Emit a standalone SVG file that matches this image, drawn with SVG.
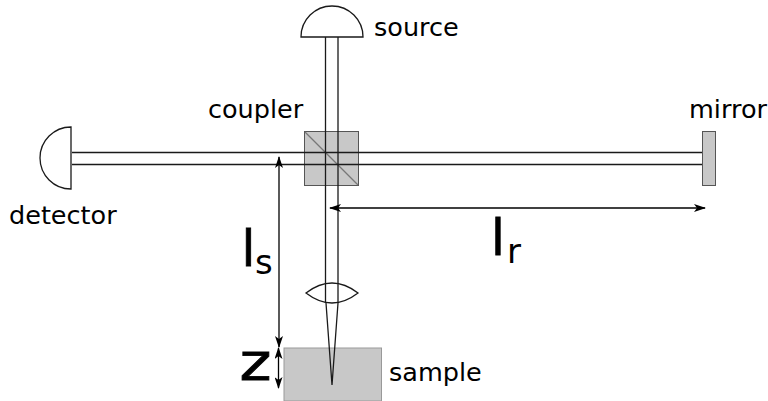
<svg xmlns="http://www.w3.org/2000/svg" width="768" height="401" viewBox="0 0 768 401">
<defs>
<marker id="a" viewBox="0 0 12 8" refX="11" refY="4" markerWidth="12" markerHeight="8" markerUnits="userSpaceOnUse" orient="auto-start-reverse"><path d="M0 0 L12 4 L0 8 L3 4 Z" fill="#000"/></marker>
</defs>
<style>
.l{font-family:"DejaVu Sans",sans-serif;font-size:25.5px;fill:#000}
.b{font-family:"DejaVu Sans",sans-serif;fill:#000}
.t{stroke:#000;stroke-width:.8}
.s{fill:none;stroke:#1a1a1a;stroke-width:1.3}
.h{fill:#fff;stroke:#1a1a1a;stroke-width:1.3}
.g{fill:#c8c8c8;stroke:#555;stroke-width:1}
</style>
<rect width="768" height="401" fill="#fff"/>
<g id="coupler"><rect class="g" x="304.500" y="131.500" width="54" height="54"/><path d="M305 132 L358 185" stroke="#777" stroke-width="1.200" fill="none"/><text class="l" x="208" y="117.500">coupler</text></g>
<g id="mirror"><rect class="g" x="702.500" y="131.500" width="13" height="54"/><text class="l" x="689" y="117.500">mirror</text></g>
<g id="sample"><rect x="284" y="348" width="97.500" height="53" fill="#c8c8c8" stroke="#999" stroke-width="1"/><text class="l" x="389" y="381">sample</text></g>
<g id="source"><path class="h" d="M301 37 A31 31 0 0 1 363 37 Z"/><text class="l" x="374" y="36">source</text></g>
<g id="detector"><path class="h" d="M71 127 A31 31 0 0 0 71 189 Z"/><text class="l" x="9" y="224">detector</text></g>
<g id="lens"><path class="s" d="M306 293 Q332 273 358 293 Q332 313 306 293 Z"/></g>
<g id="connectors">
<path class="s" d="M325.500 37 V303 M338 37 V303"/>
<path class="s" d="M72 152.500 H702 M72 164.500 H702"/>
<path class="s" d="M326 303 L332 385 L338 303"/>
<path d="M279 157 V347" stroke="#000" stroke-width="1.300" fill="none" marker-start="url(#a)" marker-end="url(#a)"/>
<path d="M278.500 348 V388" stroke="#000" stroke-width="1.300" fill="none" marker-start="url(#a)" marker-end="url(#a)"/>
<path d="M330 208 H705" stroke="#000" stroke-width="1.300" fill="none" marker-start="url(#a)" marker-end="url(#a)"/>
</g>
<g id="labels">
<text class="b t" x="241.500" y="266" font-size="50">l</text><text class="b" x="255" y="274" font-size="34">s</text>
<text class="b t" x="491" y="255" font-size="50">l</text><text class="b" x="507" y="263" font-size="34">r</text>
<text class="b t" font-size="52" transform="translate(239.500 380) scale(1.17 1)">z</text>
</g>
</svg>
